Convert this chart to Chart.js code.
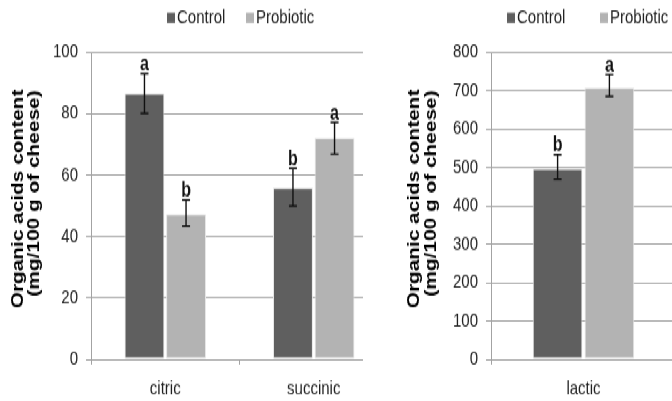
<!DOCTYPE html>
<html><head><meta charset="utf-8">
<script src="https://cdn.jsdelivr.net/npm/chart.js@4.4.1/dist/chart.umd.min.js"></script>
<style>
html,body{margin:0;padding:0;background:#fff;overflow:hidden;width:672px;height:401px}
#stage{position:absolute;left:0;top:0;width:680px;height:308px;transform:scaleY(1.30195);transform-origin:0 0}
#w1{position:absolute;left:0;top:0;width:363px;height:308px;overflow:hidden}
#w2{position:absolute;left:390px;top:0;width:290px;height:308px;overflow:hidden}
canvas{position:absolute;left:0;top:0}
</style></head><body>
<div id="stage">
  <div id="w1"><canvas id="c1" width="400" height="308"></canvas></div>
  <div id="w2"><canvas id="c2" width="290" height="308"></canvas></div>
</div>
<script>
// ---- data ----
const seriesNames = ['Control', 'Probiotic'];

const leftCategories = ['citric', 'succinic'];
const leftControl = [86.5, 55.8];
const leftProbiotic = [47.2, 72.0];
const leftControlLow = [80.1, 49.9];
const leftControlHigh = [93.0, 62.2];
const leftProbioticLow = [43.4, 66.8];
const leftProbioticHigh = [51.9, 77.1];
const leftControlLetters = ['a', 'b'];
const leftProbioticLetters = ['b', 'a'];
const leftTicks = [0, 20, 40, 60, 80, 100];

const rightCategories = ['lactic'];
const rightControl = [497];
const rightProbiotic = [708];
const rightControlLow = [469];
const rightControlHigh = [533];
const rightProbioticLow = [685];
const rightProbioticHigh = [742];
const rightControlLetters = ['b'];
const rightProbioticLetters = ['a'];
const rightTicks = [0, 100, 200, 300, 400, 500, 600, 700, 800];

const yTitleLines = ['Organic acids content', '(mg/100 g of cheese)'];

// ---- styles ----
const FONT = '"Liberation Sans", Arial, sans-serif';
const CONTROL_COLOR = '#5f5f5f';
const PROBIOTIC_COLOR = '#b3b3b3';
const GRID = '#a3a3a3';
const TEXT = '#222';
Chart.defaults.font.family = FONT;

const errorBars = {
  id: 'errorBars',
  afterDatasetsDraw(chart, args, opts) {
    const ctx = chart.ctx, y = chart.scales.y;
    opts.sets.forEach((set, di) => {
      const meta = chart.getDatasetMeta(di);
      meta.data.forEach((bar, i) => {
        const x = bar.x;
        const yl = y.getPixelForValue(set.low[i]);
        const yh = y.getPixelForValue(set.high[i]);
        ctx.save();
        ctx.strokeStyle = '#111';
        ctx.lineWidth = 1.4;
        ctx.beginPath();
        ctx.moveTo(x, yh); ctx.lineTo(x, yl);
        ctx.moveTo(x - 4, yl); ctx.lineTo(x + 4, yl);
        ctx.moveTo(x - 4, yh); ctx.lineTo(x + 4, yh);
        ctx.stroke();
        ctx.fillStyle = '#111';
        ctx.font = 'bold 16px ' + FONT;
        ctx.textAlign = 'center';
        ctx.textBaseline = 'alphabetic';
        ctx.fillText(set.letters[i], x, yh - 2.5);
        ctx.restore();
      });
    });
  }
};

const sideTitle = {
  id: 'sideTitle',
  afterDraw(chart, args, opts) {
    const ctx = chart.ctx;
    ctx.save();
    ctx.fillStyle = '#000';
    ctx.font = 'bold 16px ' + FONT;
    ctx.textAlign = 'center';
    ctx.textBaseline = 'middle';
    opts.lines.forEach((t, i) => {
      ctx.save();
      ctx.translate(opts.pos[i][0], opts.pos[i][1]);
      ctx.rotate(-Math.PI / 2);
      ctx.fillText(t, 0, 0);
      ctx.restore();
    });
    ctx.restore();
  }
};

const miniLegend = {
  id: 'miniLegend',
  afterDraw(chart, args, opts) {
    const ctx = chart.ctx;
    ctx.save();
    ctx.font = '15px ' + FONT;
    ctx.textBaseline = 'middle';
    ctx.textAlign = 'left';
    chart.data.datasets.forEach((ds, i) => {
      const x = opts.xs[i];
      ctx.fillStyle = ds.backgroundColor;
      ctx.fillRect(x, opts.y - 4, 8, 8);
      ctx.fillStyle = TEXT;
      ctx.fillText(ds.label, x + 10, opts.y + 0.5);
    });
    ctx.restore();
  }
};

function makeChart(id, cats, ctrl, prob, sets, ticks, maxV, yWidth, padRight, legendXs, titlePos) {
  return new Chart(document.getElementById(id), {
    type: 'bar',
    data: {
      labels: cats,
      datasets: [
        { label: seriesNames[0], data: ctrl, backgroundColor: CONTROL_COLOR, borderColor: '#e6e6e6', borderWidth: 1, borderSkipped: false },
        { label: seriesNames[1], data: prob, backgroundColor: PROBIOTIC_COLOR, borderColor: '#e6e6e6', borderWidth: 1, borderSkipped: false }
      ]
    },
    options: {
      responsive: false,
      animation: false,
      devicePixelRatio: 1,
      layout: { padding: { top: 40, left: 0, right: padRight, bottom: 0 } },
      datasets: { bar: { categoryPercentage: 0.56, barPercentage: 0.96 } },
      plugins: {
        legend: { display: false },
        tooltip: { enabled: false },
        errorBars: { sets: sets },
        sideTitle: { lines: yTitleLines, pos: titlePos },
        miniLegend: { xs: legendXs, y: 13.8 }
      },
      scales: {
        x: {
          grid: { display: true, drawOnChartArea: false, drawTicks: true, tickLength: 4, offset: true, color: GRID },
          border: { display: true, color: GRID, width: 1 },
          ticks: { color: TEXT, font: { size: 15 }, padding: 10 },
          afterFit: s => { s.height = 32; }
        },
        y: {
          min: 0, max: maxV,
          grid: { color: GRID, tickLength: 5, drawTicks: true },
          border: { display: true, color: GRID, width: 1 },
          ticks: { color: TEXT, font: { size: 15 }, padding: 8 },
          afterBuildTicks: s => { s.ticks = ticks.map(v => ({ value: v })); },
          afterFit: s => { s.width = yWidth; }
        }
      }
    },
    plugins: [errorBars, sideTitle, miniLegend]
  });
}

makeChart('c1', leftCategories, leftControl, leftProbiotic,
  [
    { low: leftControlLow, high: leftControlHigh, letters: leftControlLetters },
    { low: leftProbioticLow, high: leftProbioticHigh, letters: leftProbioticLetters }
  ],
  leftTicks, 100, 91, 12, [167, 246], [[18.5, 152.8], [35, 148.6]]);

makeChart('c2', rightCategories, rightControl, rightProbiotic,
  [
    { low: rightControlLow, high: rightControlHigh, letters: rightControlLetters },
    { low: rightProbioticLow, high: rightProbioticHigh, letters: rightProbioticLetters }
  ],
  rightTicks, 800, 101, 4, [117, 210], [[24.5, 152.8], [42, 148.6]]);
</script>
</body></html>
